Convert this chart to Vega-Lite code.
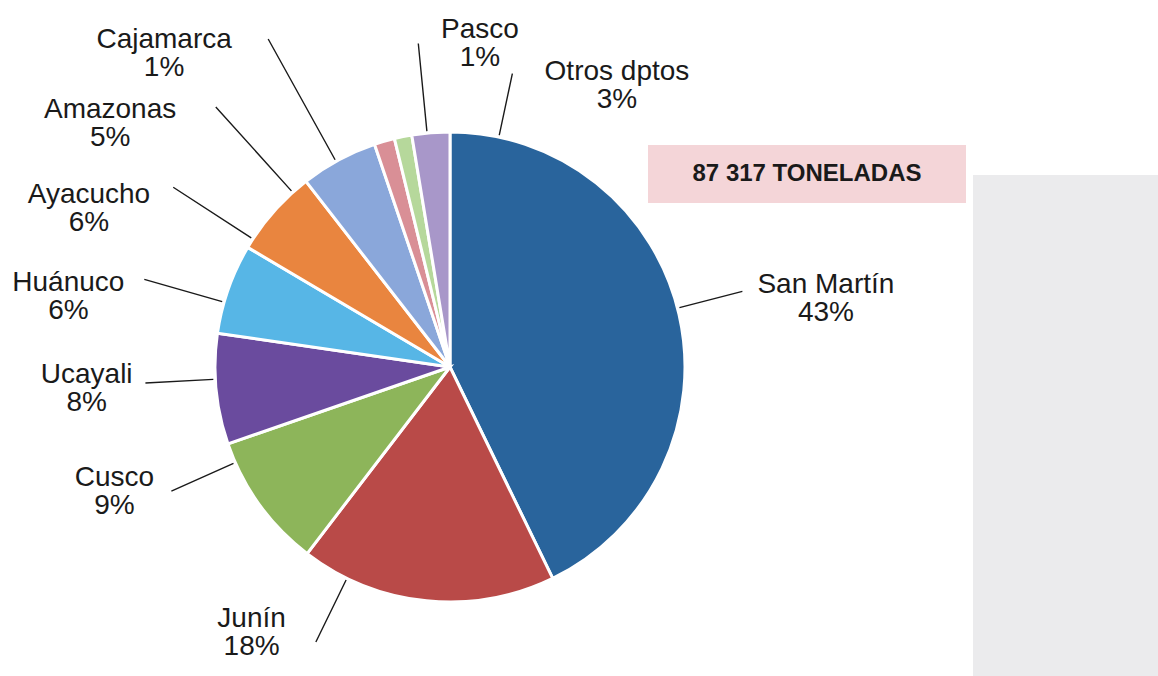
{
  "$schema": "https://vega.github.io/schema/vega-lite/v6.json",
  "padding": {"left": 12, "top": 16, "right": 0, "bottom": 0},
  "background": "white",
  "config": {"view": {"stroke": null}, "font": "Liberation Sans"},
  "bounds": "flush",
  "align": "none",
  "columns": 3,
  "spacing": {"row": 0, "column": 7},
  "datasets": {
    "deptos": [
      {"departamento": "San Martín", "participacion": 42.8},
      {"departamento": "Junín", "participacion": 17.6},
      {"departamento": "Cusco", "participacion": 9.3},
      {"departamento": "Ucayali", "participacion": 7.6},
      {"departamento": "Huánuco", "participacion": 6.2},
      {"departamento": "Ayacucho", "participacion": 6.0},
      {"departamento": "Amazonas", "participacion": 5.3},
      {"departamento": "Cajamarca", "participacion": 1.4},
      {"departamento": "Pasco", "participacion": 1.2},
      {"departamento": "Otros dptos", "participacion": 2.6}
    ],
    "total": [{"toneladas": 87317}]
  },
  "concat": [
    {"width": 382, "height": 30, "data": {"values": []}, "mark": {"type": "text"}, "encoding": {}},
    {"width": 318, "height": 30, "view": {"fill": "#f4d5d8", "stroke": null}, "data": {"values": []}, "mark": {"type": "text"}, "encoding": {}},
    {"width": 185, "height": 30, "data": {"values": []}, "mark": {"type": "text"}, "encoding": {}},
    {"width": 382, "height": 28, "data": {"values": []}, "mark": {"type": "text"}, "encoding": {}},
    {
      "width": 318,
      "height": 28,
      "view": {"fill": "#f4d5d8", "stroke": null},
      "data": {"name": "total"},
      "transform": [
        {"calculate": "replace(format(datum.toneladas, ','), ',', ' ') + ' TONELADAS'", "as": "nota"}
      ],
      "mark": {"type": "text", "fontSize": 24, "fontWeight": "bold", "font": "Liberation Sans", "color": "#1a1a1a", "align": "center", "baseline": "middle", "dy": -15},
      "encoding": {"text": {"field": "nota", "type": "nominal"}}
    },
    {"width": 185, "height": 28, "view": {"fill": "#ebebed", "stroke": null}, "data": {"values": []}, "mark": {"type": "text"}, "encoding": {}},
    {
      "width": 382,
      "height": 328,
      "data": {"name": "deptos"},
      "transform": [
        {"window": [{"op": "row_number", "as": "orden"}]},
        {"calculate": "format(datum.participacion, '.0f') + '%'", "as": "pct"},
        {"calculate": "datum.departamento + '\\n' + datum.pct", "as": "etiqueta"}
      ],
      "layer": [
        {
          "mark": {"type": "arc", "outerRadius": 235, "stroke": "white", "strokeWidth": 3},
          "encoding": {
            "theta": {"field": "participacion", "type": "quantitative", "stack": true},
            "order": {"field": "orden", "type": "quantitative"},
            "color": {
              "field": "departamento",
              "type": "nominal",
              "legend": null,
              "scale": {
                "domain": ["San Martín", "Junín", "Cusco", "Ucayali", "Huánuco", "Ayacucho", "Amazonas", "Cajamarca", "Pasco", "Otros dptos"],
                "range": ["#29649c", "#b94a48", "#8db55a", "#6a4b9e", "#57b6e6", "#e9853f", "#8aa7da", "#d98f96", "#b6d89b", "#a897c9"]
              }
            }
          }
        },
        {
          "mark": {"type": "arc", "filled": false, "stroke": "#1a1a1a", "strokeWidth": 1.4},
          "encoding": {
            "theta": {
              "field": "orden", "type": "quantitative", "stack": null,
              "scale": {"type": "linear", "zero": false, "nice": false,
                "domain": [1, 2, 3, 4, 5, 6, 7, 8, 9, 10],
                "range": [1.3177, 3.5954, 4.2935, 4.66, 4.9916, 5.2883, 5.5501, 5.777, 6.1855, 0.2094]}
            },
            "theta2": {"field": "orden"},
            "radius": {
              "field": "orden", "type": "quantitative",
              "scale": {"type": "linear", "zero": false, "nice": false,
                "domain": [1, 2, 3, 4, 5, 6, 7, 8, 9, 10],
                "range": [302, 306, 305, 305, 318, 330, 350, 375, 325, 300]}
            },
            "radius2": {"value": 237}
          }
        },
        {
          "mark": {"type": "text", "fontSize": 28, "lineHeight": 28, "lineBreak": "\n", "font": "Liberation Sans", "color": "#1a1a1a", "align": "center", "baseline": "middle", "dy": -14},
          "encoding": {
            "theta": {
              "field": "orden", "type": "quantitative", "stack": null,
              "scale": {"type": "linear", "zero": false, "nice": false,
                "domain": [1, 2, 3, 4, 5, 6, 7, 8, 9, 10],
                "range": [1.3919, 3.7822, 4.3563, 4.6513, 4.8939, 5.1243, 5.3337, 5.5432, 0.0925, 0.5358]}
            },
            "radius": {
              "field": "orden", "type": "quantitative",
              "scale": {"type": "linear", "zero": false, "nice": false,
                "domain": [1, 2, 3, 4, 5, 6, 7, 8, 9, 10],
                "range": [382, 332, 358, 364, 388, 394, 418, 424, 324, 327]}
            },
            "text": {"field": "etiqueta", "type": "nominal"}
          }
        }
      ],
      "resolve": {"scale": {"theta": "independent", "radius": "independent"}}
    },
    {"width": 318, "height": 1, "data": {"values": []}, "mark": {"type": "text"}, "encoding": {}},
    {"width": 185, "height": 473, "view": {"fill": "#ebebed", "stroke": null}, "data": {"values": []}, "mark": {"type": "text"}, "encoding": {}}
  ]
}
